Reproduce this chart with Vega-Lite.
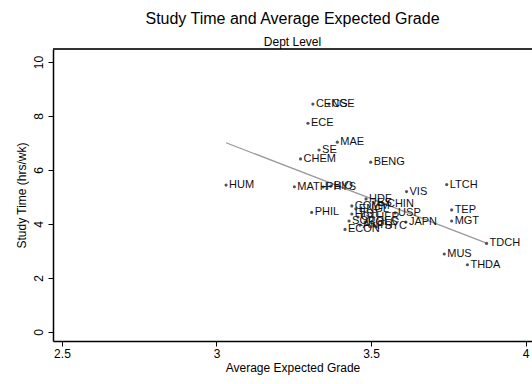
{
  "$schema": "https://vega.github.io/schema/vega-lite/v6.json",
  "autosize": {"type": "none"},
  "width": 479,
  "height": 292,
  "padding": {"left": 53, "top": 49, "right": 0, "bottom": 43},
  "background": "white",
  "config": {
    "font": "Liberation Sans",
    "view": {"stroke": null},
    "axis": {"grid": false, "domainColor": "#000", "domainWidth": 1.5, "tickColor": "#000", "tickSize": 5, "labelColor": "#000", "titleColor": "#000", "labelFontSize": 12, "titleFontSize": 12, "titleFontWeight": "normal"}
  },
  "title": {"text": "Study Time and Average Expected Grade", "subtitle": "Dept Level", "fontSize": 16, "fontWeight": "normal", "color": "#000", "subtitleFontSize": 12, "subtitleColor": "#000", "anchor": "middle", "frame": "group", "offset": 0, "subtitlePadding": 10},
  "data": {"values": [
    {"dept": "CENG", "grade": 3.312, "study": 8.44},
    {"dept": "CSE", "grade": 3.364, "study": 8.44},
    {"dept": "ECE", "grade": 3.296, "study": 7.73},
    {"dept": "MAE", "grade": 3.391, "study": 7.03},
    {"dept": "SE", "grade": 3.332, "study": 6.74},
    {"dept": "CHEM", "grade": 3.272, "study": 6.41},
    {"dept": "BENG", "grade": 3.499, "study": 6.29},
    {"dept": "HUM", "grade": 3.031, "study": 5.44},
    {"dept": "MATH", "grade": 3.252, "study": 5.38},
    {"dept": "PHYS", "grade": 3.345, "study": 5.37},
    {"dept": "BIO", "grade": 3.37, "study": 5.4},
    {"dept": "VIS", "grade": 3.615, "study": 5.2},
    {"dept": "LTCH", "grade": 3.745, "study": 5.46},
    {"dept": "TEP", "grade": 3.761, "study": 4.52},
    {"dept": "MGT", "grade": 3.761, "study": 4.11},
    {"dept": "TDCH", "grade": 3.874, "study": 3.28},
    {"dept": "MUS", "grade": 3.737, "study": 2.89},
    {"dept": "THDA", "grade": 3.812, "study": 2.49},
    {"dept": "PHIL", "grade": 3.308, "study": 4.43},
    {"dept": "ECON", "grade": 3.416, "study": 3.8},
    {"dept": "HDF", "grade": 3.484, "study": 4.93},
    {"dept": "ES", "grade": 3.51, "study": 4.78},
    {"dept": "CHIN", "grade": 3.542, "study": 4.74},
    {"dept": "COMM", "grade": 3.438, "study": 4.67},
    {"dept": "ENGL", "grade": 3.451, "study": 4.56},
    {"dept": "USP", "grade": 3.578, "study": 4.41},
    {"dept": "HIST", "grade": 3.438, "study": 4.37},
    {"dept": "OTHER", "grade": 3.458, "study": 4.26},
    {"dept": "SOC", "grade": 3.429, "study": 4.11},
    {"dept": "POLS", "grade": 3.481, "study": 4.07},
    {"dept": "PSYC", "grade": 3.51, "study": 3.93},
    {"dept": "ANTH", "grade": 3.464, "study": 3.96},
    {"dept": "JAPN", "grade": 3.613, "study": 4.07}
  ]},
  "encoding": {
    "x": {"field": "grade", "type": "quantitative", "scale": {"domain": [2.471, 4.021], "nice": false, "zero": false},
      "axis": {"values": [2.5, 3, 3.5, 4], "title": "Average Expected Grade", "labelPadding": 2, "titlePadding": 3, "format": "~g"}},
    "y": {"field": "study", "type": "quantitative", "scale": {"domain": [-0.333, 10.48], "nice": false, "zero": false},
      "axis": {"values": [0, 2, 4, 6, 8, 10], "title": "Study Time (hrs/wk)", "labelAngle": -90, "labelAlign": "center", "labelBaseline": "bottom", "labelPadding": 3, "titlePadding": 4}}
  },
  "layer": [
    {"mark": {"type": "rule", "color": "#333", "strokeWidth": 1.5},
     "encoding": {"y": {"datum": 10.48}, "x": null}},
    {"transform": [{"regression": "study", "on": "grade"}],
     "mark": {"type": "line", "color": "#999", "strokeWidth": 1.2}},
    {"mark": {"type": "circle", "size": 10, "color": "#555", "opacity": 1}},
    {"mark": {"type": "text", "align": "left", "baseline": "middle", "dx": 3, "fontSize": 11, "color": "#111"},
     "encoding": {"text": {"field": "dept"}}}
  ]
}
